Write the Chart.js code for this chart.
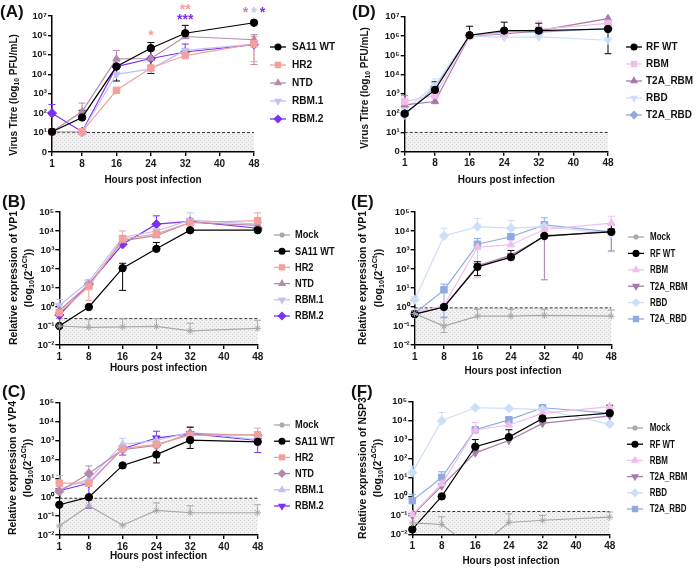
<!DOCTYPE html>
<html>
<head>
<meta charset="utf-8">
<script src="https://cdn.jsdelivr.net/npm/chart.js@4.4.1/dist/chart.umd.min.js"></script>
<style>
  html, body { margin: 0; padding: 0; background: #fff; }
  #fig { position: relative; width: 696px; height: 569px; overflow: hidden; }
  canvas { position: absolute; }
</style>
</head>
<body>
<div id="fig">
  <canvas id="cA" width="348" height="190" style="left:0;top:0"></canvas>
  <canvas id="cD" width="348" height="190" style="left:348px;top:0"></canvas>
  <canvas id="cB" width="348" height="190" style="left:0;top:190px"></canvas>
  <canvas id="cE" width="348" height="190" style="left:348px;top:190px"></canvas>
  <canvas id="cC" width="348" height="189" style="left:0;top:380px"></canvas>
  <canvas id="cF" width="348" height="189" style="left:348px;top:380px"></canvas>
</div>
<script>
// Rotavirus growth / expression curves, six panels

const hours = [1, 8, 16, 24, 32, 48];
const hourTicks = [1, 8, 16, 24, 32, 40, 48];
const titreTicks = [1, 10, 100, 1e3, 1e4, 1e5, 1e6, 1e7];
const titreTickLabels = ['0', '10¹', '10²', '10³', '10⁴', '10⁵', '10⁶', '10⁷'];
const exprTicks = [0.01, 0.1, 1, 10, 100, 1e3, 1e4, 1e5];
const exprTickLabels = ['10⁻²', '10⁻¹', '10⁰', '10¹', '10²', '10³', '10⁴', '10⁵'];

// (A) SA11 virus titre, PFU/mL
const aWT   = [11, 60, 25000, 220000, 1300000, 4500000];
const aHR2  = [11, 11, 1500, 21000, 92000, 370000];
const aNTD  = [11, 120, 62000, 65000, 880000, 600000];
const aRBM1 = [11, 11, 10000, 19000, 170000, 360000];
const aRBM2 = [100, 11, 25000, 65000, 140000, 340000];
const aWTHi   = [null, 140, 32000, 430000, 3300000, null];
const aWTLo   = [null, null, 4500, 11000, null, null];
const aHR2Hi  = [null, null, null, null, null, 900000];
const aHR2Lo  = [null, null, null, null, null, 45000];
const aNTDHi  = [null, 330, 170000, null, null, 1100000];
const aNTDLo  = [null, null, null, null, null, 32000];
const aRBM2Hi = [280, null, null, null, 360000, null];
const aLod = 10;
// significance marks above panel A
const aStarHours  = [24, 32, 32, 46, 48, 50];
const aStarLevels = [1.5e6, 3.3e7, 1e7, 2.3e7, 2.3e7, 2.3e7];
const aStarText   = ['*', '**', '***', '*', '*', '*'];

// (D) RF virus titre, PFU/mL
const dWT     = [95, 1600, 1100000, 1900000, 1900000, 2300000];
const dRBM    = [400, 850, 1000000, 1400000, 2200000, 4500000];
const dT2ARBM = [270, 400, 1000000, 1300000, 1900000, 8000000];
const dRBD    = [150, 2800, 1000000, 850000, 900000, 600000];
const dT2ARBD = [80, 2300, 1100000, 1600000, 1600000, 2500000];
const dWTHi     = [220, 4200, 3200000, 5200000, 4600000, 4000000];
const dWTLo     = [null, null, null, null, null, 120000];
const dRBMHi    = [null, null, null, null, 6000000, null];
const dT2ARBMHi = [800, null, null, null, null, null];
const dRBDHi    = [null, 6000, null, null, null, null];
const dLod = 10;

// (B) SA11 VP1 relative expression
const bMock = [0.1, 0.085, 0.09, 0.095, 0.055, 0.075];
const bWT   = [0.1, 1, 110, 1150, 11000, 11000];
const bHR2  = [0.5, 12, 3800, 7000, 28000, 35000];
const bNTD  = [0.65, 15, 3100, 5700, 28000, 20000];
const bRBM1 = [1.2, 22, 4600, 10000, 37000, 23000];
const bRBM2 = [0.38, 16, 2000, 23000, 32000, 14000];
const bMockHi = [0.25, 0.22, 0.24, 0.25, 0.14, 0.2];
const bWTHi   = [null, null, 200, 2500, null, 28000];
const bWTLo   = [null, null, 7.5, null, null, null];
const bHR2Hi  = [1.3, null, 10000, null, null, 90000];
const bHR2Lo  = [null, 2.2, null, null, null, null];
const bRBM1Hi = [2.5, 25, null, null, 90000, null];
const bRBM2Hi = [null, null, null, 63000, null, null];
const bLod = 0.245;

// (E) RF VP1 relative expression
const eMock   = [0.45, 0.1, 0.33, 0.33, 0.36, 0.33];
const eWT     = [0.42, 1, 130, 420, 5500, 9000];
const eRBM    = [0.5, 1.2, 1400, 1900, 12000, 26000];
const eT2ARBM = [0.42, 1, 150, 520, 5100, 10000];
const eRBD    = [2.4, 5500, 17000, 14000, 17000, 7500];
const eT2ARBD = [0.45, 8, 2000, 5000, 21000, 9000];
const eMockHi   = [null, 0.27, 0.75, 0.75, 0.75, 0.7];
const eMockLo   = [null, 0.045, null, null, null, null];
const eWTHi     = [null, null, 240, 950, 14000, 22000];
const eWTLo     = [null, null, 45, null, null, null];
const eRBMHi    = [null, null, null, null, null, 60000];
const eRBMLo    = [null, null, 35, null, null, null];
const eT2ARBMLo = [null, null, null, null, 27, 900];
const eRBDHi    = [3.5, 14000, 46000, 36000, null, null];
const eRBDLo    = [null, null, null, null, null, 800];
const eT2ARBDHi = [null, 16, 4000, null, 50000, null];
const eT2ARBDLo = [null, 0.3, null, null, null, null];
const eLod = 0.9;

// (C) SA11 VP4 relative expression
const cMock = [0.03, 0.35, 0.033, 0.2, 0.15, 0.15];
const cWT   = [0.4, 1, 48, 180, 1050, 850];
const cHR2  = [5.5, 5.5, 370, 620, 1900, 2000];
const cNTD  = [2, 18, 330, 550, 2300, 1900];
const cRBM1 = [2.6, 9, 630, 1000, 2700, 1100];
const cRBM2 = [2.2, 5.5, 370, 1350, 2300, 1000];
const cMockHi = [null, null, null, 0.5, 0.35, 0.4];
const cWTHi   = [null, null, null, 600, 5000, null];
const cWTLo   = [null, null, null, 65, 380, null];
const cHR2Hi  = [14, null, null, null, 5500, 4500];
const cNTDHi  = [null, 45, null, null, null, null];
const cRBM1Hi = [null, null, 1300, null, null, null];
const cRBM2Hi = [null, null, null, 3100, null, null];
const cRBM2Lo = [null, 0.26, 170, null, null, 230];
const cLod = 0.88;

// (F) RF NSP3 relative expression
const fMock   = [0.04, 0.033, 0.0015, 0.042, 0.055, 0.08];
const fWT     = [0.018, 1, 420, 1350, 13000, 25000];
const fRBM    = [0.11, 4.6, 3200, 5900, 24000, 55000];
const fT2ARBM = [0.1, 3.6, 200, 900, 7200, 18000];
const fRBD    = [18, 10000, 48000, 44000, 38000, 6600];
const fT2ARBD = [0.6, 10, 3300, 11000, 48000, 25000];
const fMockHi   = [null, 0.085, null, 0.12, 0.1, 0.15];
const fWTHi     = [null, null, 1000, 3300, null, 65000];
const fRBMHi    = [null, null, 8000, null, null, null];
const fRBDHi    = [40, 27000, null, null, null, null];
const fT2ARBDHi = [1.3, 20, null, null, null, null];
const fLod = 0.16;

const col = {
  wt: '#000000', hr2: '#f2a19b', ntd: '#b68aab', rbm1: '#c0c2f3', rbm2: '#7b30f4',
  mock: '#a9a9a9', rbm: '#f1bdeb', t2aRbm: '#a77ba9', rbd: '#cddff7', t2aRbd: '#8fabe0'
};

const FONT = "'Liberation Sans', Arial, Helvetica, sans-serif";
Chart.defaults.font.family = FONT;

const radiusFor = { circle: 3.7, rect: 4.6, triangle: 4.3, rectRot: 4.6, star: 3.5 };

function S(name, vals, hi, lo, color, shape, rot) {
  return { name, vals, hi, lo, color, shape, rot: rot || 0, r: radiusFor[shape] };
}

// title pieces: [text, 0 normal / -1 subscript / 1 superscript]
const titreTitle = [['Virus Titre (log', 0], ['10', -1], [' PFU/mL)', 0]];
const exprLine2 = [['(log', 0], ['10', -1], ['(2', 0], ['-ΔCt', 1], ['))', 0]];
function exprLine1(gene) { return [['Relative expression of ' + gene, 0]]; }

const panels = [
  { canvas: 'cA', letter: '(A)', letterX: 0, H: 190, L: 52, R: 254, T: 16, B: 152,
    yTicks: titreTicks, yLabels: titreTickLabels, lod: aLod, xTitleY: 180,
    yTitles: [{ segs: titreTitle, x: 14, size: 10 }], yTitleY: 95,
    leg: { mx: 278, tx: 292, y0: 47, dy: 18, sx: 0.96 },
    stars: true,
    series: [
      S('SA11 WT', aWT, null, null, col.wt, 'circle'),
      S('HR2', aHR2, aHR2Hi, aHR2Lo, col.hr2, 'rect'),
      S('NTD', aNTD, aNTDHi, aNTDLo, col.ntd, 'triangle'),
      S('RBM.1', aRBM1, null, null, col.rbm1, 'triangle', 180),
      S('RBM.2', aRBM2, aRBM2Hi, null, col.rbm2, 'rectRot')
    ],
    errOnTop: [S('SA11 WT', aWT, aWTHi, aWTLo, col.wt, 'circle')] },
  { canvas: 'cD', letter: '(D)', letterX: 4, H: 190, L: 56.7, R: 260, T: 16.7, B: 151.7,
    yTicks: titreTicks, yLabels: titreTickLabels, lod: dLod, xTitleY: 180,
    yTitles: [{ segs: titreTitle, x: 17, size: 10 }], yTitleY: 88,
    leg: { mx: 286, tx: 298, y0: 47, dy: 17, sx: 0.95 },
    series: [
      S('RF WT', dWT, dWTHi, dWTLo, col.wt, 'circle'),
      S('RBM', dRBM, dRBMHi, null, col.rbm, 'rect'),
      S('T2A_RBM', dT2ARBM, dT2ARBMHi, null, col.t2aRbm, 'triangle'),
      S('RBD', dRBD, dRBDHi, null, col.rbd, 'triangle', 180),
      S('T2A_RBD', dT2ARBD, null, null, col.t2aRbd, 'rectRot')
    ] },
  { canvas: 'cB', letter: '(B)', letterX: 2, H: 190, L: 59.3, R: 257.7, T: 22, B: 155,
    yTicks: exprTicks, yLabels: exprTickLabels, lod: bLod, xTitleY: 178,
    yTitles: [{ segs: exprLine1('VP1'), x: 14, size: 10.5 }, { segs: exprLine2, x: 29, size: 10.5 }], yTitleY: 88,
    leg: { mx: 282, tx: 295, y0: 45, dy: 16.2, sx: 0.88 },
    series: [
      S('Mock', bMock, bMockHi, null, col.mock, 'star'),
      S('SA11 WT', bWT, bWTHi, bWTLo, col.wt, 'circle'),
      S('HR2', bHR2, bHR2Hi, bHR2Lo, col.hr2, 'rect'),
      S('NTD', bNTD, null, null, col.ntd, 'triangle'),
      S('RBM.1', bRBM1, bRBM1Hi, null, col.rbm1, 'triangle', 180),
      S('RBM.2', bRBM2, bRBM2Hi, null, col.rbm2, 'rectRot')
    ] },
  { canvas: 'cE', letter: '(E)', letterX: 3, H: 190, L: 66.7, R: 263.3, T: 22, B: 155,
    yTicks: exprTicks, yLabels: exprTickLabels, lod: eLod, xTitleY: 181.7,
    yTitles: [{ segs: exprLine1('VP1'), x: 15, size: 10.5 }, { segs: exprLine2, x: 31, size: 10.5 }], yTitleY: 88,
    leg: { mx: 288, tx: 302, y0: 47, dy: 16.4, sx: 0.76 },
    series: [
      S('Mock', eMock, eMockHi, eMockLo, col.mock, 'star'),
      S('RF WT', eWT, eWTHi, eWTLo, col.wt, 'circle'),
      S('RBM', eRBM, eRBMHi, eRBMLo, col.rbm, 'triangle'),
      S('T2A_RBM', eT2ARBM, null, eT2ARBMLo, col.t2aRbm, 'triangle', 180),
      S('RBD', eRBD, eRBDHi, eRBDLo, col.rbd, 'rectRot'),
      S('T2A_RBD', eT2ARBD, eT2ARBDHi, eT2ARBDLo, col.t2aRbd, 'rect')
    ] },
  { canvas: 'cC', letter: '(C)', letterX: 2, H: 189, L: 59.3, R: 257.7, T: 22.7, B: 155,
    yTicks: exprTicks, yLabels: exprTickLabels, lod: cLod, xTitleY: 176.7,
    yTitles: [{ segs: exprLine1('VP4'), x: 13, size: 10.5 }, { segs: exprLine2, x: 28, size: 10.5 }], yTitleY: 88,
    leg: { mx: 282, tx: 295, y0: 45, dy: 16.2, sx: 0.88 },
    series: [
      S('Mock', cMock, cMockHi, null, col.mock, 'star'),
      S('SA11 WT', cWT, cWTHi, cWTLo, col.wt, 'circle'),
      S('HR2', cHR2, cHR2Hi, null, col.hr2, 'rect'),
      S('NTD', cNTD, cNTDHi, null, col.ntd, 'rectRot'),
      S('RBM.1', cRBM1, cRBM1Hi, null, col.rbm1, 'triangle'),
      S('RBM.2', cRBM2, cRBM2Hi, cRBM2Lo, col.rbm2, 'triangle', 180)
    ] },
  { canvas: 'cF', letter: '(F)', letterX: 3, H: 189, L: 64.3, R: 261.7, T: 21.7, B: 154.3,
    yTicks: exprTicks, yLabels: exprTickLabels, lod: fLod, xTitleY: 181.7,
    yTitles: [{ segs: exprLine1('NSP3'), x: 15, size: 10.5 }, { segs: exprLine2, x: 30, size: 10.5 }], yTitleY: 88,
    leg: { mx: 287, tx: 301.7, y0: 48, dy: 16.2, sx: 0.76 },
    series: [
      S('Mock', fMock, fMockHi, null, col.mock, 'star'),
      S('RF WT', fWT, fWTHi, null, col.wt, 'circle'),
      S('RBM', fRBM, fRBMHi, null, col.rbm, 'triangle'),
      S('T2A_RBM', fT2ARBM, null, null, col.t2aRbm, 'triangle', 180),
      S('RBD', fRBD, fRBDHi, null, col.rbd, 'rectRot'),
      S('T2A_RBD', fT2ARBD, fT2ARBDHi, null, col.t2aRbd, 'rect')
    ] }
];

// dotted grey texture for the below-detection band
const hatch = document.createElement('canvas');
hatch.width = 4; hatch.height = 4;
const hc = hatch.getContext('2d');
hc.fillStyle = '#f1f1f1'; hc.fillRect(0, 0, 4, 4);
hc.fillStyle = '#cfcfcf'; hc.fillRect(0, 0, 1, 1); hc.fillRect(2, 2, 1, 1);

function drawRich(ctx, segs, x, y, size, rotate) {
  ctx.save();
  ctx.translate(x, y);
  if (rotate) ctx.rotate(-Math.PI / 2);
  ctx.textBaseline = 'middle';
  ctx.textAlign = 'left';
  let w = 0;
  segs.forEach(([t, m]) => {
    ctx.font = 'bold ' + (m ? size * 0.68 : size) + 'px ' + FONT;
    w += ctx.measureText(t).width;
  });
  let cx = -w / 2;
  segs.forEach(([t, m]) => {
    ctx.font = 'bold ' + (m ? size * 0.68 : size) + 'px ' + FONT;
    const dy = m < 0 ? size * 0.3 : m > 0 ? -size * 0.42 : 0;
    ctx.fillText(t, cx, dy);
    cx += ctx.measureText(t).width;
  });
  ctx.restore();
}

function errorBars(ctx, x, y, s) {
  ctx.strokeStyle = s.color;
  ctx.lineWidth = 1;
  hours.forEach((h, j) => {
    const xp = x.getPixelForValue(h);
    const y0 = y.getPixelForValue(s.vals[j]);
    [s.hi, s.lo].forEach(arr => {
      if (!arr || arr[j] == null) return;
      const y1 = y.getPixelForValue(arr[j]);
      ctx.beginPath();
      ctx.moveTo(xp, y0); ctx.lineTo(xp, y1);
      ctx.moveTo(xp - 3.5, y1); ctx.lineTo(xp + 3.5, y1);
      ctx.stroke();
    });
  });
}

function decor(p) {
  return {
    id: 'decor',
    beforeDatasetsDraw(chart) {
      const { ctx, chartArea: a, scales: { x, y } } = chart;
      const yl = y.getPixelForValue(p.lod);
      ctx.save();
      ctx.fillStyle = ctx.createPattern(hatch, 'repeat');
      ctx.fillRect(a.left + 1, yl, a.right - a.left - 1, a.bottom - 1 - yl);
      ctx.strokeStyle = '#333';
      ctx.lineWidth = 1;
      ctx.setLineDash([3, 2]);
      ctx.beginPath(); ctx.moveTo(a.left, yl); ctx.lineTo(a.right, yl); ctx.stroke();
      ctx.setLineDash([]);
      for (let i = p.series.length - 1; i >= 0; i--) errorBars(ctx, x, y, p.series[i]);
      (p.errOnTop || []).forEach(s => errorBars(ctx, x, y, s));
      ctx.restore();
    },
    afterDraw(chart) {
      const { ctx, chartArea: a, scales: { x, y } } = chart;
      ctx.save();
      ctx.fillStyle = '#111';
      // panel letter
      ctx.font = 'bold 17px ' + FONT;
      ctx.textAlign = 'left'; ctx.textBaseline = 'alphabetic';
      ctx.fillText(p.letter, p.letterX, 17);
      // axis titles
      drawRich(ctx, [['Hours post infection', 0]], (a.left + a.right) / 2, p.xTitleY, 10, false);
      p.yTitles.forEach(t => drawRich(ctx, t.segs, t.x, p.yTitleY, t.size, true));
      // legend
      p.series.forEach((s, i) => {
        const ly = p.leg.y0 + i * p.leg.dy;
        ctx.strokeStyle = s.color; ctx.fillStyle = s.color; ctx.lineWidth = 1.3;
        ctx.beginPath(); ctx.moveTo(p.leg.mx - 8, ly); ctx.lineTo(p.leg.mx + 8, ly); ctx.stroke();
        Chart.helpers.drawPoint(ctx, { pointStyle: s.shape, rotation: s.rot, radius: s.r * 0.78, borderWidth: 1 }, p.leg.mx, ly);
        ctx.save();
        ctx.fillStyle = '#111';
        ctx.font = 'bold 10.5px ' + FONT;
        ctx.textAlign = 'left'; ctx.textBaseline = 'middle';
        ctx.translate(p.leg.tx, ly + 0.5);
        ctx.scale(p.leg.sx, 1);
        ctx.fillText(s.name, 0, 0);
        ctx.restore();
      });
      // significance asterisks
      if (p.stars) {
        const starCols = [col.hr2, col.hr2, col.rbm2, col.ntd, col.rbm1, col.rbm2];
        ctx.font = 'bold 14px ' + FONT;
        ctx.textAlign = 'center'; ctx.textBaseline = 'alphabetic';
        aStarText.forEach((t, k) => {
          ctx.fillStyle = starCols[k];
          ctx.fillText(t, x.getPixelForValue(aStarHours[k]), y.getPixelForValue(aStarLevels[k]) + 8);
        });
      }
      ctx.restore();
    }
  };
}

const Y_W = 40, X_H = 20, W = 348;

panels.forEach(p => {
  const axisGrid = { drawOnChartArea: false, drawTicks: true, tickLength: 4, color: '#000', lineWidth: 1.4 };
  const axisBorder = { display: true, color: '#000', width: 1.5 };
  new Chart(document.getElementById(p.canvas), {
    type: 'line',
    data: {
      datasets: p.series.map(s => ({
        label: s.name,
        data: hours.map((h, j) => ({ x: h, y: s.vals[j] })),
        borderColor: s.color,
        backgroundColor: s.color,
        borderWidth: 1.2,
        pointStyle: s.shape,
        pointRotation: s.rot,
        pointRadius: s.r,
        pointBorderWidth: 1,
        tension: 0,
        clip: { left: 8, top: 8, right: 8, bottom: 0 }
      }))
    },
    options: {
      responsive: false,
      animation: false,
      devicePixelRatio: 1,
      events: [],
      layout: { padding: { left: p.L - Y_W, top: p.T, right: W - p.R, bottom: p.H - p.B - X_H } },
      plugins: { legend: { display: false }, tooltip: { enabled: false } },
      scales: {
        x: {
          type: 'linear', min: 1, max: 48,
          afterBuildTicks: ax => { ax.ticks = hourTicks.map(v => ({ value: v })); },
          afterFit: ax => { ax.height = X_H; },
          grid: axisGrid, border: axisBorder,
          ticks: { color: '#1a1a1a', padding: 2, maxRotation: 0, autoSkip: false,
                   font: { size: 10, weight: 'bold' } }
        },
        y: {
          type: 'logarithmic', min: p.yTicks[0], max: p.yTicks[p.yTicks.length - 1],
          afterBuildTicks: ax => { ax.ticks = p.yTicks.map(v => ({ value: v })); },
          afterFit: ax => { ax.width = Y_W; },
          grid: axisGrid, border: axisBorder,
          ticks: { color: '#1a1a1a', padding: 1, autoSkip: false,
                   font: { size: 9.5, weight: 'bold' },
                   callback: (v, i) => p.yLabels[i] }
        }
      }
    },
    plugins: [decor(p)]
  });
});
</script>
</body>
</html>
